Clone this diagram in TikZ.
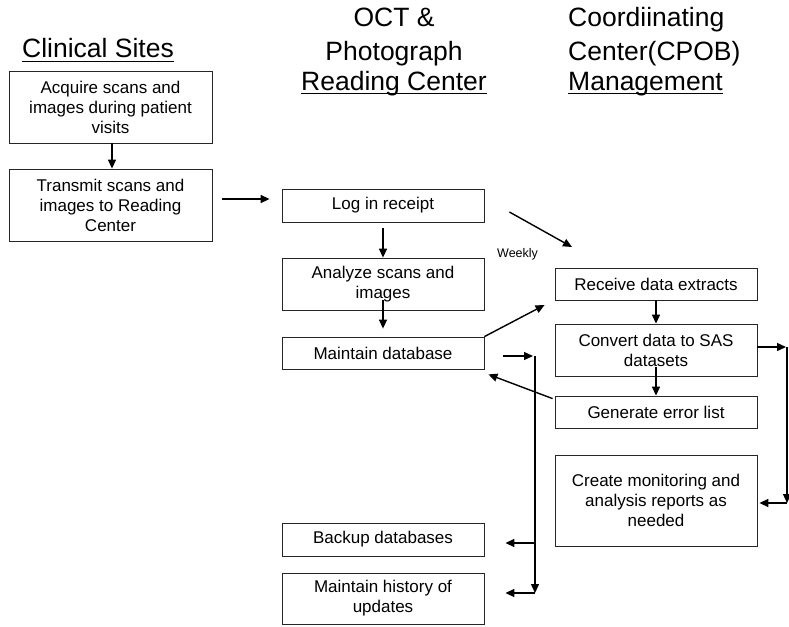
\documentclass[tikz,border=0pt]{standalone}
\usepackage{fontspec}
\setmainfont{Liberation Sans}
\usetikzlibrary{arrows.meta}
\begin{document}
\begin{tikzpicture}[x=1pt,y=-1pt,
  box/.style={draw=black!85, line width=0.8pt, align=center, inner sep=2pt,
    font=\fontsize{17}{20}\selectfont, minimum width=202pt},
  hdr/.style={inner sep=0pt, font=\fontsize{26.5}{31}\selectfont},
  arr/.style={line width=1.4pt, -{Triangle[length=9pt,width=8pt]}},
  uline/.style={line width=1.8pt}]
\useasboundingbox (0,0) rectangle (789,626);

% headers
\node[hdr, anchor=base west] (cs) at (22,58) {Clinical Sites};
\node[hdr, anchor=base] (oct) at (394,27) {OCT \&};
\node[hdr, anchor=base] (pho) at (394,60) {Photograph};
\node[hdr, anchor=base] (rc) at (394,90) {Reading Center};
\node[hdr, anchor=base west] (coo) at (568,27) {Coordiinating};
\node[hdr, anchor=base west] (cen) at (568,60) {Center(CPOB)};
\node[hdr, anchor=base west] (man) at (568,90) {Management};
\draw[uline] ([yshift=-3.5pt]cs.base west) -- ([yshift=-3.5pt]cs.base east);
\draw[uline] ([yshift=-3.5pt]rc.base west) -- ([yshift=-3.5pt]rc.base east);
\draw[uline] ([yshift=-3.5pt]man.base west) -- ([yshift=-3.5pt]man.base east);

% boxes
\node[box, minimum width=203pt, minimum height=72pt] (acq) at (110.5,107) {Acquire scans and\\images during patient\\visits};
\node[box, minimum width=203pt, minimum height=72pt] (trans) at (110.5,205) {Transmit scans and\\images to Reading\\Center};
\node[box, minimum height=33pt] (log) at (383,205.5) {Log in receipt};
\node[box, minimum height=52pt] (ana) at (383,284) {Analyze scans and\\images};
\node[box, minimum height=32pt] (mdb) at (383,353) {Maintain database};
\node[box, minimum height=33pt] (bak) at (383,539.5) {Backup databases};
\node[box, minimum height=51pt] (hist) at (383,598.5) {Maintain history of\\updates};
\node[box, minimum height=32pt] (rec) at (656,284) {Receive data extracts};
\node[box, minimum height=52pt] (conv) at (656,350) {Convert data to SAS\\datasets};
\node[box, minimum height=32pt] (gen) at (656,412) {Generate error list};
\node[box, minimum height=91pt] (crt) at (656,500.5) {Create monitoring and\\analysis reports as\\needed};

\node[inner sep=0pt, anchor=base west, font=\fontsize{12.5}{15}\selectfont] (wkl) at (497,257) {Weekly};

% free ends
\coordinate (wk) at (572,247);
\coordinate (rb1) at (787,347);
\coordinate (rb2) at (787,503);
\coordinate (lb1) at (535,356);
\coordinate (lb2) at (535,593);
\coordinate (lb3) at (535,543);

% connectors
\draw[arr] ([xshift=1.5pt]acq.south) -- ([xshift=1.5pt]trans.north);
\draw[arr] ([shift={(10pt,6pt)}]trans.east) -- ([shift={(-12pt,6.5pt)}]log.west);
\draw[arr, shorten <=6pt] (log.south) -- (ana.north);
\draw[arr] ([yshift=10pt]ana.south) -- ([yshift=8pt]mdb.north);
\draw[arr] ([shift={(25pt,-6.5pt)}]log.east) -- (wk);
\draw[arr] (mdb.north east) -- ([shift={(-10pt,-21pt)}]rec.west);
\draw[arr] (rec.south) -- (conv.north);
\draw[arr] ([yshift=9pt]conv.south) -- (gen.north);
\draw[arr] ([shift={(-2pt,-3pt)}]gen.north west) -- ([shift={(4pt,-5pt)}]mdb.south east);
\draw[arr] ([yshift=3pt]conv.east) -- ([xshift=-1pt]rb1);
\draw[arr] (rb1) -- (rb2);
\draw[arr] (rb2) -- ([shift={(2pt,-2.5pt)}]crt.east);
\draw[arr] ([shift={(19pt,-3pt)}]mdb.east) -- ([xshift=-2pt]lb1);
\draw[arr] (lb1) -- (lb2);
\draw[arr] (lb3) -- ([shift={(21pt,-3.5pt)}]bak.east);
\draw[arr] (lb2) -- ([shift={(21pt,5.5pt)}]hist.east);
\end{tikzpicture}
\end{document}
